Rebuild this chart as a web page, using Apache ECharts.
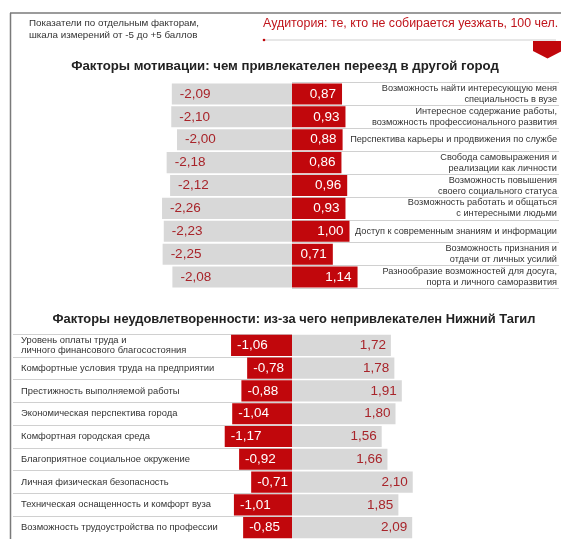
<!DOCTYPE html>
<html><head><meta charset="utf-8">
<script src="https://cdn.jsdelivr.net/npm/echarts@6/dist/echarts.min.js"></script>
<style>html,body{margin:0;padding:0;background:#fff}#c{width:561px;height:539px}</style>
</head><body><div id="c"></div>
<script>
const motivCats = [
  'Возможность найти интересующую меня\nспециальность в вузе',
  'Интересное содержание работы,\nвозможность профессионального развития',
  'Перспектива карьеры и продвижения по службе',
  'Свобода самовыражения и\nреализации как личности',
  'Возможность повышения\nсвоего социального статуса',
  'Возможность работать и общаться\nс интересными людьми',
  'Доступ к современным знаниям и информации',
  'Возможность признания и\nотдачи от личных усилий',
  'Разнообразие возможностей для досуга,\nпорта и личного саморазвития'
];
const motivNeg = [-2.09, -2.10, -2.00, -2.18, -2.12, -2.26, -2.23, -2.25, -2.08];
const motivPos = [0.87, 0.93, 0.88, 0.86, 0.96, 0.93, 1.00, 0.71, 1.14];

const dissCats = [
  'Уровень оплаты труда и\nличного финансового благосостояния',
  'Комфортные условия труда на предприятии',
  'Престижность выполняемой работы',
  'Экономическая перспектива города',
  'Комфортная городская среда',
  'Благоприятное социальное окружение',
  'Личная физическая безопасность',
  'Техническая оснащенность и комфорт вуза',
  'Возможность трудоустройства по профессии'
];
const dissNeg = [-1.06, -0.78, -0.88, -1.04, -1.17, -0.92, -0.71, -1.01, -0.85];
const dissPos = [1.72, 1.78, 1.91, 1.80, 1.56, 1.66, 2.10, 1.85, 2.09];

const RED = '#c1070c', GRAY = '#d8d8d8', DARKRED = '#a8242a';
const FONT = '"Liberation Sans", Arial, sans-serif';
const fmt = p => p.value.toFixed(2).replace('.', ',');

const chart = echarts.init(document.getElementById('c'), null, {renderer: 'canvas'});

const barX = {type: 'value', min: -3, max: 2.5, show: false};
const hidX = {type: 'value', min: 0, max: 1, show: false};

const option = {
  animation: false,
  backgroundColor: '#fff',
  textStyle: {fontFamily: FONT},
  title: [
    {text: 'Факторы мотивации: чем привлекателен переезд в другой город', left: 285, top: 60, padding: 0, textAlign: 'center',
     textStyle: {fontFamily: FONT, fontSize: 13.2, fontWeight: 'bold', color: '#222'}},
    {text: 'Факторы неудовлетворенности: из-за чего непривлекателен Нижний Тагил', left: 294, top: 313, padding: 0, textAlign: 'center',
     textStyle: {fontFamily: FONT, fontSize: 12.9, fontWeight: 'bold', color: '#222'}},
    {text: 'Показатели по отдельным факторам,\nшкала измерений от -5 до +5 баллов', left: 29, top: 17, padding: 0,
     textStyle: {fontFamily: FONT, fontSize: 9.8, fontWeight: 'normal', color: '#333', lineHeight: 12}},
    {text: 'Аудитория: те, кто не собирается уезжать, 100 чел.', left: 263, top: 18, padding: 0,
     textStyle: {fontFamily: FONT, fontSize: 12.4, fontWeight: 'normal', color: '#c0141b'}}
  ],
  graphic: [
    {type: 'line', shape: {x1: 10, y1: 13, x2: 561, y2: 13}, style: {stroke: '#7a7a7a', lineWidth: 1.5}},
    {type: 'line', shape: {x1: 10.5, y1: 13, x2: 10.5, y2: 539}, style: {stroke: '#7a7a7a', lineWidth: 1.5}},
    {type: 'line', shape: {x1: 263, y1: 40, x2: 556, y2: 40}, style: {stroke: '#cfcfcf', lineWidth: 1}},
    {type: 'circle', shape: {cx: 264, cy: 40, r: 1.3}, style: {fill: RED}},
    {type: 'polygon', shape: {points: [[533, 41], [562, 41], [562, 51], [547.5, 58.5], [533, 51]]}, style: {fill: RED}}
  ],
  grid: [
    {left: 119.5, top: 82.5, width: 316.25, height: 206},
    {left: 292, top: 82.5, width: 267, height: 206},
    {left: 119.5, top: 334, width: 316.25, height: 211.5},
    {left: 13, top: 334, width: 279, height: 211.5}
  ],
  xAxis: [
    Object.assign({gridIndex: 0}, barX),
    Object.assign({gridIndex: 1}, hidX),
    Object.assign({gridIndex: 2}, barX),
    Object.assign({gridIndex: 3}, hidX)
  ],
  yAxis: [
    {gridIndex: 0, type: 'category', data: motivCats, inverse: true, show: false},
    {gridIndex: 1, type: 'category', data: motivCats, inverse: true, position: 'right',
     axisLine: {show: false}, axisTick: {show: false},
     splitLine: {show: true, lineStyle: {color: '#d0d0d0', width: 1}},
     axisLabel: {inside: true, margin: 2, align: 'right', fontFamily: FONT, fontSize: 9.2, lineHeight: 11, color: '#333'}},
    {gridIndex: 2, type: 'category', data: dissCats, inverse: true, show: false},
    {gridIndex: 3, type: 'category', data: dissCats, inverse: true, position: 'left',
     axisLine: {show: false}, axisTick: {show: false},
     splitLine: {show: true, lineStyle: {color: '#d0d0d0', width: 1}},
     axisLabel: {inside: true, margin: 8, align: 'left', fontFamily: FONT, fontSize: 9.4, lineHeight: 10, color: '#333'}}
  ],
  series: [
    {type: 'bar', xAxisIndex: 0, yAxisIndex: 0, data: motivNeg, barGap: '-100%', barCategoryGap: '8%',
     itemStyle: {color: GRAY}, z: 3,
     label: {show: true, position: 'insideLeft', distance: 8, formatter: fmt, color: DARKRED, fontSize: 13.5, fontFamily: FONT}},
    {type: 'bar', xAxisIndex: 0, yAxisIndex: 0, data: motivPos, barGap: '-100%', barCategoryGap: '8%',
     itemStyle: {color: RED}, z: 3,
     label: {show: true, position: 'insideRight', distance: 6, formatter: fmt, color: '#fff', fontSize: 13.5, fontFamily: FONT}},
    {type: 'bar', xAxisIndex: 2, yAxisIndex: 2, data: dissNeg, barGap: '-100%', barCategoryGap: '7%',
     itemStyle: {color: RED}, z: 3,
     label: {show: true, position: 'insideLeft', distance: 6, formatter: fmt, color: '#fff', fontSize: 13.5, fontFamily: FONT}},
    {type: 'bar', xAxisIndex: 2, yAxisIndex: 2, data: dissPos, barGap: '-100%', barCategoryGap: '7%',
     itemStyle: {color: GRAY}, z: 3,
     label: {show: true, position: 'insideRight', distance: 5, formatter: fmt, color: DARKRED, fontSize: 13.5, fontFamily: FONT}}
  ]
};
chart.setOption(option);
</script>
</body></html>
